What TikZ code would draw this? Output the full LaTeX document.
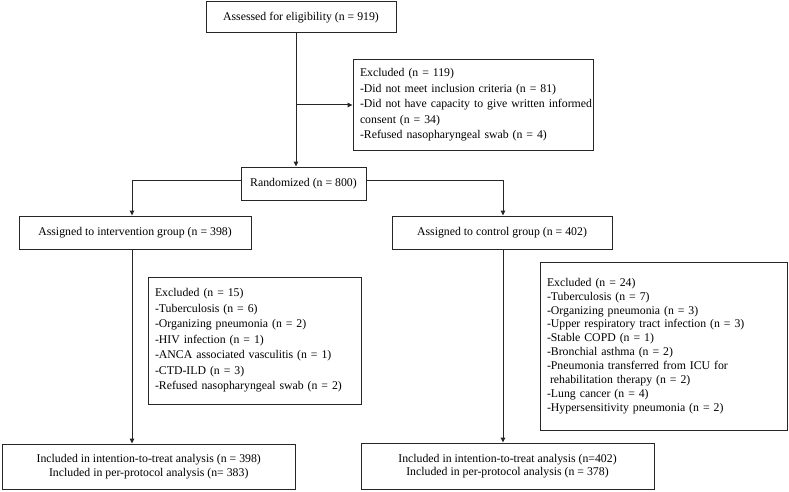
\documentclass[tikz,border=0pt]{standalone}
\usepackage{fontspec}
\setmainfont{Liberation Serif}
\usetikzlibrary{arrows.meta}
\begin{document}
\begin{tikzpicture}[x=1pt,y=-1pt,
  box/.style={draw=black!85,line width=1pt,inner sep=0pt,anchor=center,
    font=\fontsize{11.8}{15.5}\selectfont,align=center},
  listbox/.style={draw=black!85,line width=1pt,inner xsep=7pt,inner ysep=0pt,anchor=center,
    font=\fontsize{11.8}{15.5}\selectfont,align=left},
  arr/.style={draw=black!85,line width=1pt,-{Triangle[length=5pt,width=4.5pt]}}]
\useasboundingbox[fill=white] (0,0) rectangle (789,492);

\node[box,minimum width=190pt,minimum height=31pt] (assess) at (301,17.5) {Assessed for eligibility (n = 919)};
\node[listbox,text width=226pt,minimum height=90pt] (excl1) at (473,105)
  {Excluded (n = 119)\\
   -Did not meet inclusion criteria (n = 81)\\
   \mbox{-Did not have capacity to give written informed}\\
   consent (n = 34)\\
   -Refused nasopharyngeal swab (n = 4)};
\node[box,minimum width=125pt,minimum height=33pt] (rand) at (303.5,183.5) {Randomized (n = 800)};
\node[box,minimum width=232pt,minimum height=33pt] (int) at (135,232.5) {Assigned to intervention group (n = 398)};
\node[box,minimum width=220pt,minimum height=33pt] (ctl) at (502,232.5) {Assigned to control group (n = 402)};
\node[listbox,text width=199pt,minimum height=127pt] (excl2) at (254.5,340.5)
  {Excluded (n = 15)\\
   -Tuberculosis (n = 6)\\
   -Organizing pneumonia (n = 2)\\
   -HIV infection (n = 1)\\
   -ANCA associated vasculitis (n = 1)\\
   -CTD-ILD (n = 3)\\
   -Refused nasopharyngeal swab (n = 2)};
\node[listbox,text width=233pt,minimum height=168pt,font=\fontsize{11.8}{13.9}\selectfont] (excl3) at (663.5,346)
  {Excluded (n = 24)\\
   -Tuberculosis (n = 7)\\
   -Organizing pneumonia (n = 3)\\
   -Upper respiratory tract infection (n = 3)\\
   -Stable COPD (n = 1)\\
   -Bronchial asthma (n = 2)\\
   -Pneumonia transferred from ICU for\\
   \hspace*{3pt}rehabilitation therapy (n = 2)\\
   -Lung cancer (n = 4)\\
   -Hypersensitivity pneumonia (n = 2)};
\node[box,minimum width=292.5pt,minimum height=45pt,font=\fontsize{11.8}{13.5}\selectfont] (itt1) at (148.75,466.5)
  {Included in intention-to-treat analysis (n = 398)\\Included in per-protocol analysis (n= 383)};
\node[box,minimum width=293pt,minimum height=46pt,font=\fontsize{11.8}{13.5}\selectfont] (itt2) at (507.5,466)
  {Included in intention-to-treat analysis (n=402)\\Included in per-protocol analysis (n = 378)};

\coordinate (tx) at (296,0);
\coordinate (lx) at (132,0);
\coordinate (rx) at (503,0);
\coordinate (ry) at (0,180);

\draw[arr] (assess.south -| tx) -- (rand.north -| tx);
\draw[arr] (tx |- excl1.west) -- (excl1.west);
\draw[arr] (rand.west |- ry) -| (lx |- int.north);
\draw[arr] (rand.east |- ry) -| (rx |- ctl.north);
\draw[arr] (lx |- int.south) -- (lx |- itt1.north);
\draw[arr] (rx |- ctl.south) -- (rx |- itt2.north);
\end{tikzpicture}
\end{document}
